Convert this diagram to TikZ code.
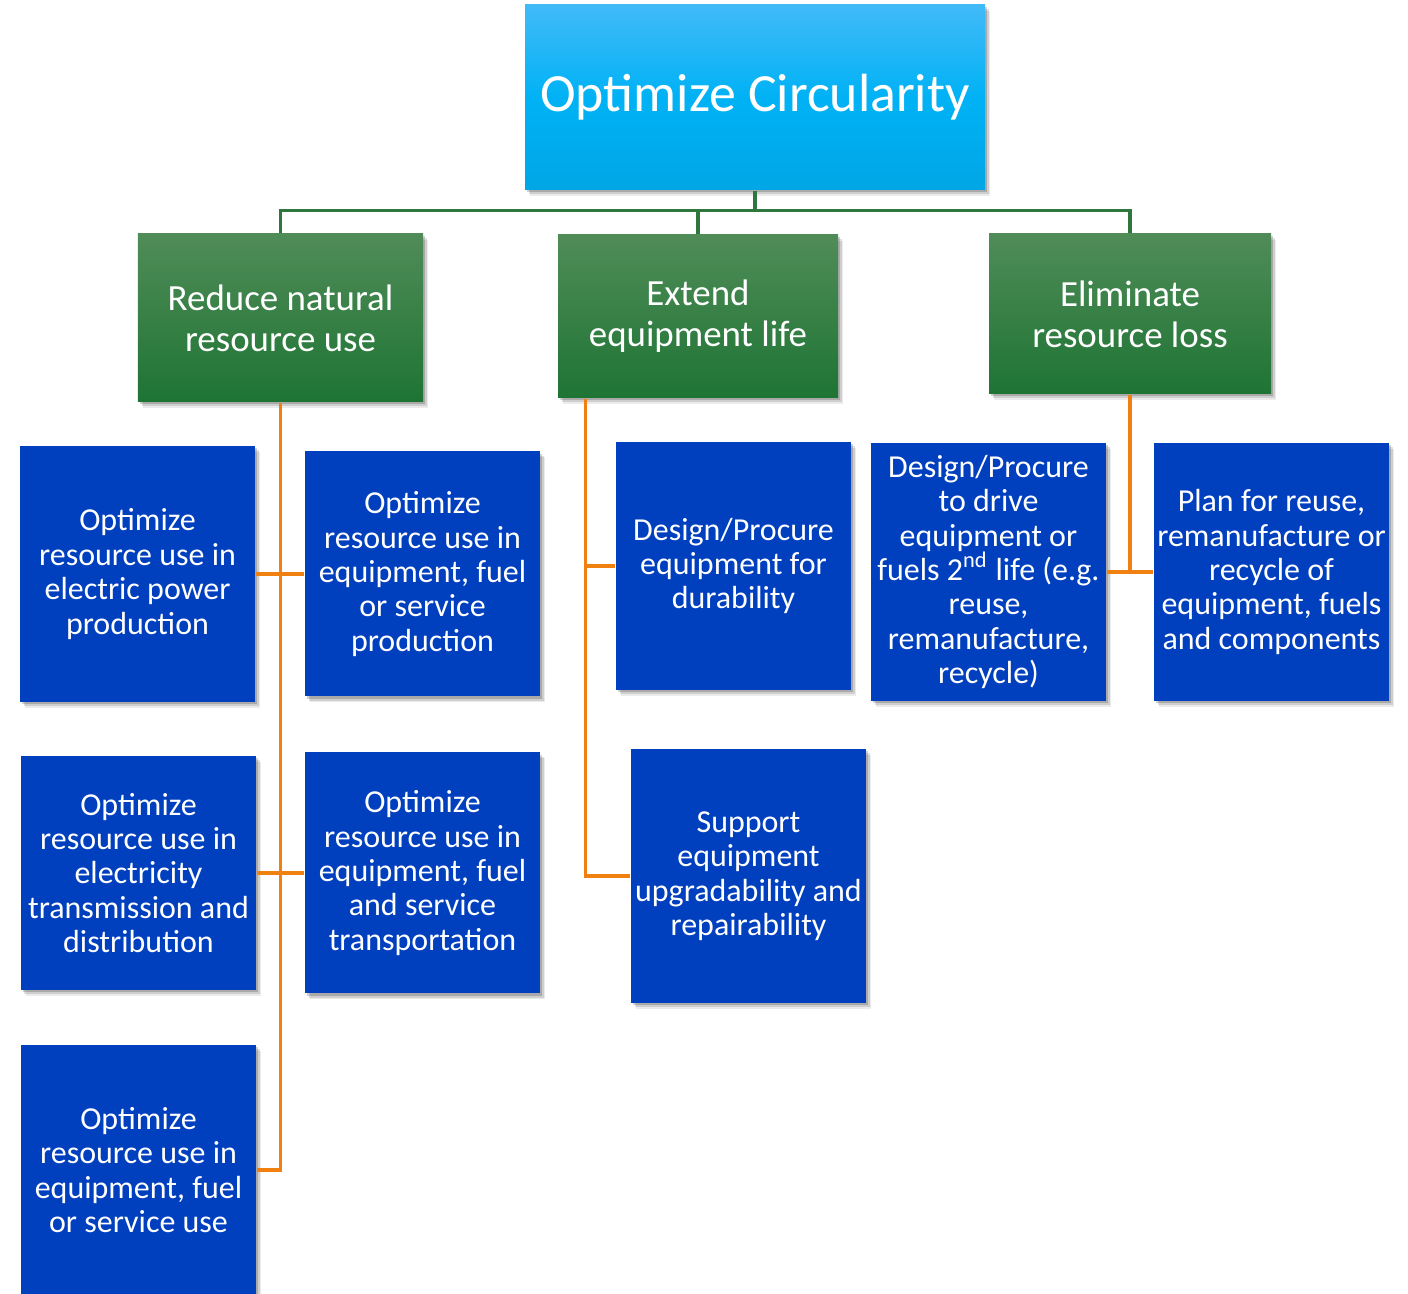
\documentclass[tikz,border=0pt]{standalone}
\usepackage{fontspec}
\setmainfont{Carlito}
\usetikzlibrary{positioning}
\usetikzlibrary{shadows}
\usetikzlibrary{calc}

\definecolor{topblue}{RGB}{0,178,245}
\definecolor{toplight}{RGB}{66,186,248}
\definecolor{topdark}{RGB}{0,166,230}
\definecolor{greentop}{RGB}{80,140,88}
\definecolor{greenbot}{RGB}{30,116,52}
\definecolor{goalblue}{RGB}{0,64,190}
\definecolor{linkgreen}{RGB}{46,120,62}
\definecolor{linkorange}{RGB}{240,128,16}

\begin{document}
\begin{tikzpicture}[
    boxshadow/.style={
        drop shadow={shadow xshift=0.05cm, shadow yshift=-0.06cm, opacity=0.08, fill=black},
        drop shadow={shadow xshift=0.035cm, shadow yshift=-0.045cm, opacity=0.12, fill=black},
        drop shadow={shadow xshift=0.02cm, shadow yshift=-0.025cm, opacity=0.18, fill=black}},
    headbox/.style={boxshadow, top color=toplight, bottom color=topdark, middle color=topblue,
        minimum width=4.6cm, minimum height=1.85cm, text=white, font=\fontsize{15.3}{19}\selectfont},
    aimbox/.style={boxshadow, top color=greentop, bottom color=greenbot, text=white,
        align=center, font=\fontsize{10.5}{11.6}\selectfont},
    goalbox/.style={boxshadow, fill=goalblue, text=white, align=center,
        minimum width=2.35cm, inner sep=0pt, font=\fontsize{9.1}{9.8}\selectfont},
    greenlink/.style={draw=linkgreen, line width=0.9pt},
    orangelink/.style={draw=linkorange, line width=0.9pt}
]
\useasboundingbox (0,0) rectangle (14.08,-12.94);

% Top
\node[headbox] (head) at (7.55,-0.975) {Optimize Circularity};

% Second level
\node[aimbox, minimum width=2.85cm, minimum height=1.68cm] (reduce) at (2.805,-3.18) {Reduce natural\\resource use};
\node[aimbox, minimum width=2.80cm, minimum height=1.63cm] (extend) at (6.98,-3.165) {Extend\\equipment life};
\node[aimbox, minimum width=2.82cm, minimum height=1.60cm] (eliminate) at (11.30,-3.14) {Eliminate\\resource loss};

% Reduce natural resource use
\node[goalbox, minimum height=2.56cm] (power) at (1.375,-5.74) {Optimize\\resource use in\\electric power\\production};
\node[goalbox, minimum height=2.45cm] (production) at (4.225,-5.74) {Optimize\\resource use in\\equipment, fuel\\or service\\production};
\node[goalbox, minimum height=2.34cm] (grid) at (1.385,-8.73) {Optimize\\resource use in\\electricity\\transmission and\\distribution};
\node[goalbox, minimum height=2.41cm] (transport) at (4.225,-8.73) {Optimize\\resource use in\\equipment, fuel\\and service\\transportation};
\node[goalbox, minimum height=2.50cm] (use) at (1.385,-11.70) {Optimize\\resource use in\\equipment, fuel\\or service use};

% Extend equipment life
\node[goalbox, minimum height=2.48cm] (durable) at (7.335,-5.66) {Design/Procure\\equipment for\\durability};
\node[goalbox, minimum height=2.54cm] (repair) at (7.485,-8.76) {Support\\equipment\\upgradability and\\repairability};

% Eliminate resource loss
\node[goalbox, minimum height=2.58cm] (second) at (9.885,-5.72) {Design/Procure\\to drive\\equipment or\\fuels 2\textsuperscript{nd} life (e.g.\\reuse,\\remanufacture,\\recycle)};
\node[goalbox, minimum height=2.58cm] (plan) at (12.715,-5.72) {Plan for reuse,\\remanufacture or\\recycle of\\equipment, fuels\\and components};

% Green tree
\coordinate (bus) at ($(head.south)+(0,-0.2)$);
\draw[greenlink] (head.south) -- (bus);
\foreach \aim in {reduce,extend,eliminate} {
    \draw[greenlink] (bus) -| (\aim.north);
}

% Orange links
\draw[orangelink] (reduce.south) |- (use.east);
\draw[orangelink] (power.east) -- (production.west);
\draw[orangelink] (grid.east) -- (transport.west);

\coordinate (etop) at ($(extend.south west)+(0.28,0)$);
\draw[orangelink] (etop) |- (repair.west);
\draw[orangelink] (etop |- durable.west) -- (durable.west);

\draw[orangelink] (eliminate.south) -- (eliminate.south |- second.east);
\draw[orangelink] (second.east) -- (plan.west);

\end{tikzpicture}
\end{document}
